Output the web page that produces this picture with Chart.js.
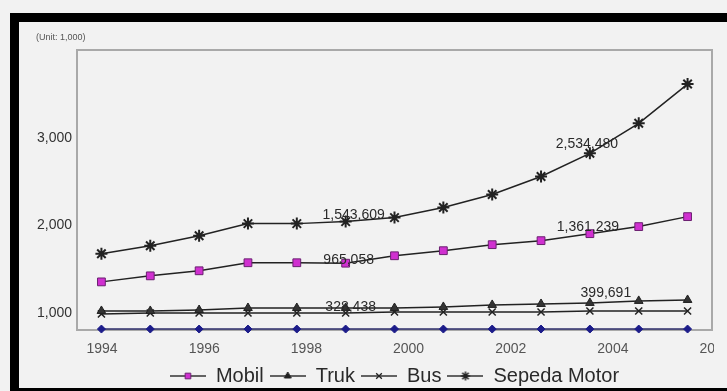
<!DOCTYPE html>
<html>
<head>
<meta charset="utf-8">
<script src="https://cdn.jsdelivr.net/npm/chart.js@4.4.0/dist/chart.umd.min.js"></script>
<style>
  html, body { margin: 0; padding: 0; background: #f2f2f2; overflow: hidden; }
  #wrap { position: relative; width: 727px; height: 391px; }
</style>
</head>
<body>
<div id="wrap"><canvas id="grafico" width="727" height="391"></canvas></div>
<script>
// Tahun data (satu titik per tahun)
const tahun = ['1994', '1995', '1996', '1997', '1998', '1999', '2000', '2001', '2002', '2003', '2004', '2005', '2006'];
// Label sumbu X dan Y seperti pada gambar
const labelSumbuX = [1994, 1996, 1998, 2000, 2002, 2004, 2006];
const labelSumbuY = [1000, 2000, 3000];

// Nilai tiap seri (satuan 1.000)
const mobil       = [1356, 1425, 1483, 1575, 1575, 1570, 1655, 1713, 1782, 1828, 1908, 1989, 2103];
const truk        = [1023, 1023, 1034, 1057, 1057, 1057, 1057, 1069, 1092, 1103, 1115, 1138, 1149];
const bus         = [989, 1000, 1000, 1000, 1000, 1000, 1011, 1011, 1011, 1011, 1023, 1023, 1023];
const sepedaMotor = [1678, 1770, 1885, 2023, 2023, 2046, 2092, 2207, 2356, 2563, 2828, 3172, 3621];
const garisDasar  = [816, 816, 816, 816, 816, 816, 816, 816, 816, 816, 816, 816, 816];

// Angka yang ditulis di samping titik
const teksNilai  = ['1,543,609', '965,058', '328,438', '2,534,480', '1,361,239', '399,691'];
const seriNilai  = ['Sepeda Motor', 'Mobil', 'Truk', 'Sepeda Motor', 'Mobil', 'Truk'];
const tahunNilai = ['1999', '1999', '1999', '2004', '2004', '2004'];

const FONT = "'Liberation Sans', Arial, sans-serif";
const WARNA_LATAR = '#f2f2f2';

// Geser teks angka relatif ke titiknya (px)
const geserTeks = [[8, -6], [3, -3], [5, -1], [-3, -9], [-2, -7], [16, -10]];

// Gambar contoh garis + penanda untuk legenda
function buatSampel(gaya, radius, isi, garis, tebal) {
    const c = document.createElement('canvas');
    c.width = 36;
    c.height = 20;
    const ctx = c.getContext('2d');
    ctx.strokeStyle = '#333';
    ctx.lineWidth = 1.5;
    ctx.beginPath();
    ctx.moveTo(0, 10);
    ctx.lineTo(36, 10);
    ctx.stroke();
    ctx.fillStyle = isi;
    ctx.strokeStyle = garis;
    ctx.lineWidth = tebal;
    Chart.helpers.drawPoint(ctx, { pointStyle: gaya, radius: radius, borderWidth: tebal, rotation: 0 }, 18, 10);
    return c;
}

const pluginBingkai = {
    id: 'bingkai',
    beforeDraw(chart) {
        const ctx = chart.ctx;
        ctx.save();
        ctx.fillStyle = WARNA_LATAR;
        ctx.fillRect(0, 0, chart.width, chart.height);
        ctx.fillStyle = '#000';
        ctx.fillRect(10, 13, chart.width - 10, 9);
        ctx.fillRect(10, 13, 9, chart.height - 13);
        ctx.fillRect(10, 388, chart.width - 10, 3);
        ctx.restore();
    },
    beforeDatasetsDraw(chart) {
        const a = chart.chartArea;
        const ctx = chart.ctx;
        ctx.save();
        ctx.strokeStyle = '#a9a9a9';
        ctx.lineWidth = 2;
        ctx.strokeRect(a.left, a.top, a.right - a.left, a.bottom - a.top);
        ctx.restore();
    },
    afterDatasetsDraw(chart) {
        const ctx = chart.ctx;
        const sx = chart.scales.x;
        const sy = chart.scales.y;
        ctx.save();
        ctx.font = '14px ' + FONT;
        ctx.fillStyle = '#2a2a2a';
        ctx.textAlign = 'center';
        ctx.textBaseline = 'middle';
        teksNilai.forEach((teks, i) => {
            const ds = chart.data.datasets.find(d => d.label === seriNilai[i]);
            const idx = tahun.indexOf(tahunNilai[i]);
            const px = sx.getPixelForValue(idx);
            const py = sy.getPixelForValue(ds.data[idx]);
            ctx.fillText(teks, px + geserTeks[i][0], py + geserTeks[i][1]);
        });
        ctx.restore();
    },
    afterDraw(chart) {
        const a = chart.chartArea;
        const ctx = chart.ctx;
        ctx.save();
        // potongan label tahun terakhir seperti pada hasil pindaian
        ctx.fillStyle = WARNA_LATAR;
        ctx.fillRect(a.right + 2, a.bottom + 2, chart.width - a.right, 28);
        ctx.font = '9px ' + FONT;
        ctx.fillStyle = '#555';
        ctx.textAlign = 'left';
        ctx.textBaseline = 'middle';
        ctx.fillText('(Unit: 1,000)', a.left - 41, a.top - 12);
        ctx.restore();
    }
};

const garisUmum = { borderColor: '#222', borderWidth: 1.5, tension: 0, clip: false };

const sampel = {
    'Mobil': buatSampel('rect', 4, '#d030d0', '#6a2070', 1),
    'Truk': buatSampel('triangle', 4, '#222', '#222', 1),
    'Bus': buatSampel('crossRot', 4, '#222', '#222', 1.3),
    'Sepeda Motor': buatSampel('star', 4.5, '#222', '#222', 1.5)
};

const ctxGrafico = document.getElementById('grafico').getContext('2d');
const grafico = new Chart(ctxGrafico, {
    type: 'line',
    data: {
        labels: tahun,
        datasets: [
            Object.assign({ label: 'Mobil', data: mobil, pointStyle: 'rect', pointRadius: 5.5,
                pointBackgroundColor: '#d030d0', pointBorderColor: '#6a2070', pointBorderWidth: 1 }, garisUmum),
            Object.assign({ label: 'Truk', data: truk, pointStyle: 'triangle', pointRadius: 5,
                pointBackgroundColor: '#333', pointBorderColor: '#222', pointBorderWidth: 1 }, garisUmum),
            Object.assign({ label: 'Bus', data: bus, pointStyle: 'crossRot', pointRadius: 5,
                pointBorderColor: '#222', pointBorderWidth: 1.5 }, garisUmum),
            Object.assign({ label: 'Sepeda Motor', data: sepedaMotor, pointStyle: 'star', pointRadius: 6,
                pointBorderColor: '#222', pointBorderWidth: 2 }, garisUmum),
            Object.assign({ label: '', data: garisDasar, pointStyle: 'rectRot', pointRadius: 4,
                pointBackgroundColor: '#1c1c8a', pointBorderColor: '#1c1c8a', pointBorderWidth: 1 },
                garisUmum, { borderColor: '#2d2d6a' })
        ]
    },
    options: {
        responsive: false,
        animation: false,
        devicePixelRatio: 1,
        layout: { padding: { left: 35, right: 15, top: 50, bottom: -5 } },
        plugins: {
            tooltip: { enabled: false },
            legend: {
                position: 'bottom',
                fullSize: false,
                labels: {
                    usePointStyle: true,
                    pointStyleWidth: 36,
                    boxHeight: 20,
                    padding: 6,
                    color: '#2a2a2a',
                    font: { size: 20, family: FONT },
                    generateLabels(chart) {
                        return chart.data.datasets
                            .map((ds, i) => ({
                                text: ds.label,
                                pointStyle: sampel[ds.label],
                                datasetIndex: i,
                                hidden: false,
                                lineWidth: 0,
                                fillStyle: 'transparent',
                                strokeStyle: 'transparent',
                                fontColor: '#2a2a2a'
                            }))
                            .filter(item => item.text);
                    }
                }
            }
        },
        scales: {
            x: { display: false, offset: true },
            x2: {
                type: 'linear',
                position: 'bottom',
                min: 1993.51,
                max: 2005.94,
                grid: { display: false, drawTicks: false },
                border: { display: false },
                afterBuildTicks: s => { s.ticks = labelSumbuX.map(v => ({ value: v })); },
                afterFit: s => { s.paddingLeft = 0; s.paddingRight = 0; s.height = 30; },
                ticks: {
                    autoSkip: false,
                    maxRotation: 0,
                    padding: 14,
                    color: '#555',
                    font: { size: 14, family: FONT, lineHeight: 0.7 },
                    callback: v => String(v)
                }
            },
            y: {
                min: 805,
                max: 4011,
                grid: { display: false, drawTicks: false },
                border: { display: false },
                afterBuildTicks: s => { s.ticks = labelSumbuY.map(v => ({ value: v })); },
                afterFit: s => { s.width = 42; },
                ticks: {
                    padding: 5,
                    color: '#333',
                    font: { size: 14, family: FONT },
                    callback: v => v.toLocaleString('en-US')
                }
            }
        }
    },
    plugins: [pluginBingkai]
});
</script>
</body>
</html>
